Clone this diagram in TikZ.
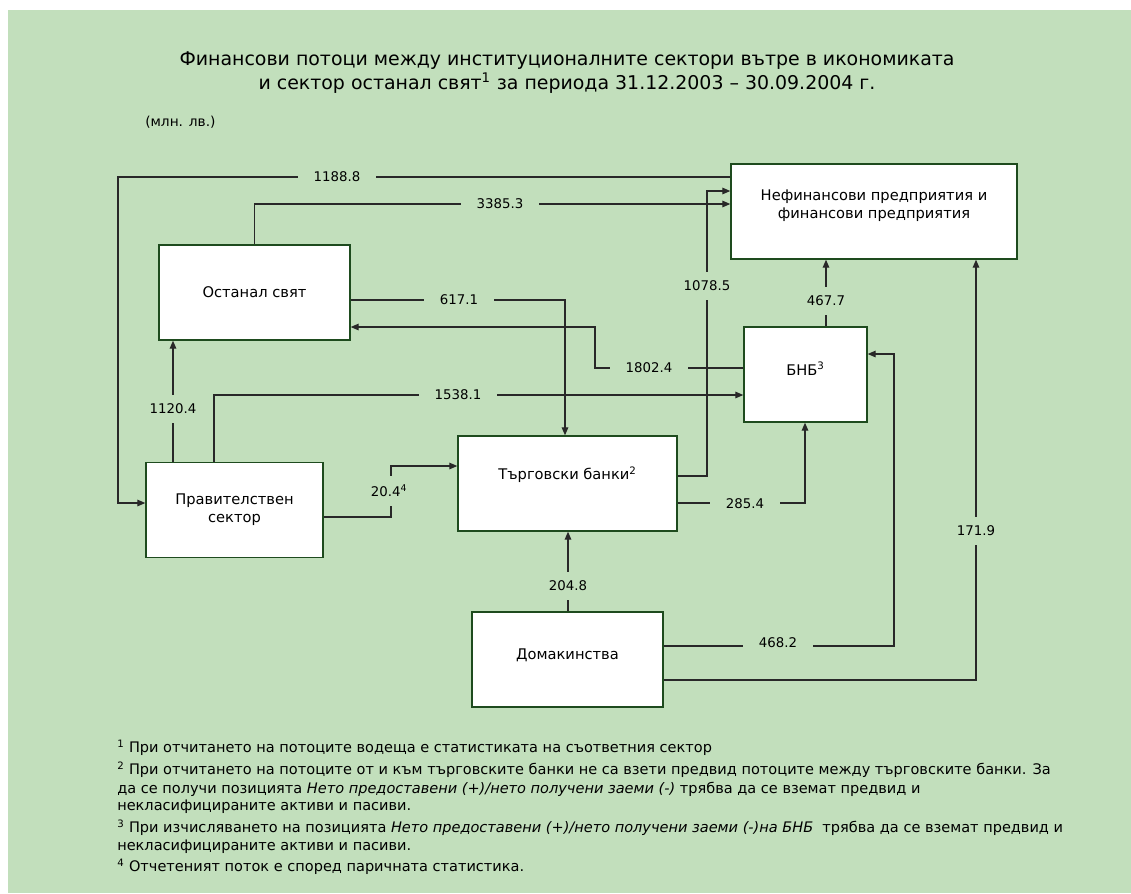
\documentclass[tikz,border=0pt]{standalone}
\usepackage{fontspec}
\setmainfont{DejaVu Sans}
\usetikzlibrary{arrows.meta,calc}
\definecolor{bg}{RGB}{194,223,188}
\definecolor{boxline}{RGB}{30,75,30}
\definecolor{flowline}{RGB}{40,40,40}
\begin{document}
\begin{tikzpicture}[x=0.75pt,y=-0.75pt,
  sect/.style={draw=boxline,line width=1.1pt,fill=white,inner sep=0pt,minimum height=71.25pt},
  sectxt/.style={font=\fontsize{11}{13.5}\selectfont,align=center,inner sep=0pt},
  flow/.style={draw=flowline,line width=0.8pt},
  arr/.style={flow,-{Triangle[length=6pt,width=5pt]}},
  hlbl/.style={fill=bg,inner xsep=12pt,inner ysep=2pt,font=\fontsize{10}{12}\selectfont},
  vlbl/.style={fill=bg,inner xsep=2pt,inner ysep=7pt,font=\fontsize{10}{12}\selectfont},
  note/.style={anchor=west,inner sep=0pt,font=\fontsize{10.9}{13}\selectfont},
  ttl/.style={font=\fontsize{14.2}{17}\selectfont,inner sep=0pt},
  ]
\useasboundingbox (0,0) rectangle (1131,893);
\fill[bg] (8,10) rectangle (1131,893);

% title
\node[ttl] (t1) at (567,61) {Финансови потоци между институционалните сектори вътре в икономиката};
\node[ttl] (t2) at (567,83.5) {и сектор останал свят\textsuperscript{1} за периода 31.12.2003 – 30.09.2004 г.};
\node[font=\fontsize{10.3}{12}\selectfont,anchor=west,inner sep=0pt] (units) at (145,122) {(млн. лв.)};

% sectors
\node[sect,minimum width=143.25pt,label={[sectxt]center:Останал свят}] (ost) at (254.5,292.5) {};
\node[sect,minimum width=214.5pt,label={[sectxt,yshift=4.1pt]center:Нефинансови предприятия и\\финансови предприятия}] (nef) at (874,211.5) {};
\node[sect,minimum width=92.25pt,label={[sectxt,yshift=4.3pt]center:БНБ\textsuperscript{3}}] (bnb) at (805.5,374.5) {};
\node[sect,minimum width=164.25pt,label={[sectxt,yshift=6.4pt]center:Търговски банки\textsuperscript{2}}] (tb) at (567.5,483.5) {};
\node[sect,minimum width=132.75pt,label={[sectxt]center:Правителствен\\сектор}] (gov) at (234.5,510) {};
\node[sect,minimum width=143.25pt,label={[sectxt,yshift=3pt]center:Домакинства}] (dom) at (567.5,659.5) {};

% flows
\draw[arr] (nef.west |- 0,177) -| (118,503) -- (gov.west |- 0,503);
\draw[arr] (ost.north) |- (nef.west |- 0,204);
\draw[arr] (ost.east |- 0,300) -| (tb.north -| 565,0);
\draw[arr] (bnb.west |- 0,368) -| (595,327) -- (ost.east |- 0,327);
\draw[arr] (tb.east |- 0,476) -| (707,191) -- (nef.west |- 0,191);
\draw[arr] (bnb.north -| 826,0) -- (nef.south -| 826,0);
\draw[arr] (gov.north -| 214,0) |- (bnb.west |- 0,395);
\draw[arr] (gov.north -| 173,0) -- (ost.south -| 173,0);
\draw[arr] (gov.east |- 0,517) -| (391,466) -- (tb.west |- 0,466);
\draw[arr] (tb.east |- 0,503) -| (bnb.south -| 805,0);
\draw[arr] (dom.east |- 0,680) -| (nef.south -| 976,0);
\draw[arr] (dom.east |- 0,646) -| (894,354) -- (bnb.east |- 0,354);
\draw[arr] (dom.north -| 568,0) -- (tb.south -| 568,0);

% flow labels
\node[hlbl] (l1) at (337,177) {1188.8};
\node[hlbl] (l2) at (500,204) {3385.3};
\node[hlbl] (l3) at (459,300) {617.1};
\node[hlbl] (l4) at (649,368) {1802.4};
\node[vlbl] (l5) at (707,286) {1078.5};
\node[vlbl] (l6) at (826,301) {467.7};
\node[hlbl] (l7) at (458,395) {1538.1};
\node[vlbl] (l8) at (173,409) {1120.4};
\node[vlbl] (l9) at (389,491) {20.4\textsuperscript{4}};
\node[hlbl] (l10) at (745,504) {285.4};
\node[vlbl] (l11) at (976,531) {171.9};
\node[hlbl] (l12) at (778,643) {468.2};
\node[vlbl] (l13) at (568,586) {204.8};

% footnotes
\node[note] (f1) at (117,748) {\textsuperscript{1} При отчитането на потоците водеща е статистиката на съответния сектор};
\node[note] (f2a) at (117,770) {\textsuperscript{2} При отчитането на потоците от и към търговските банки не са взети предвид потоците между търговските банки. За};
\node[note] (f2b) at (117,789) {да се получи позицията \textit{Нето предоставени (+)/нето получени заеми (-)} трябва да се вземат предвид и};
\node[note] (f2c) at (117,807) {некласифицираните активи и пасиви.};
\node[note] (f3a) at (117,828) {\textsuperscript{3} При изчисляването на позицията \textit{Нето предоставени (+)/нето получени заеми (-)на БНБ} \ трябва да се вземат предвид и};
\node[note] (f3b) at (117,847) {некласифицираните активи и пасиви.};
\node[note] (f4) at (117,867) {\textsuperscript{4} Отчетеният поток е според паричната статистика.};
\end{tikzpicture}
\end{document}
